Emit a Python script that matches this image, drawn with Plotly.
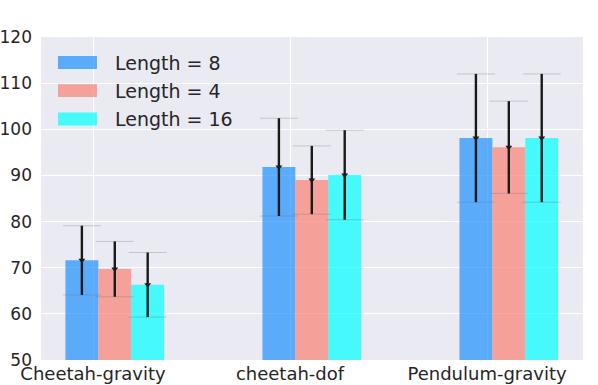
import numpy as np
import plotly.graph_objects as go

categories = ["Cheetah-gravity", "cheetah-dof", "Pendulum-gravity"]
series_names = ["Length = 8", "Length = 4", "Length = 16"]

means_len8 = [71.6, 91.8, 98.1]
means_len4 = [69.7, 89.0, 96.1]
means_len16 = [66.3, 90.1, 98.1]

err_len8 = [7.5, 10.6, 13.9]
err_len4 = [6.0, 7.4, 10.0]
err_len16 = [7.0, 9.7, 13.9]

colors = ["rgba(30,144,255,0.7)", "rgba(250,128,114,0.7)", "rgba(0,255,255,0.7)"]
offsets = [-0.14, 0.027, 0.194]
bar_w = 0.167

means = [means_len8, means_len4, means_len16]
errs = [err_len8, err_len4, err_len16]
idx = np.arange(len(categories))

fig = go.Figure()

# bars
for name, m, c, off in zip(series_names, means, colors, offsets):
    fig.add_trace(go.Bar(
        x=idx, y=m, name=name, offset=off, width=bar_w,
        marker=dict(color=c, line=dict(width=0)),
        showlegend=False
    ))

# thin grey caps
for m, e, off in zip(means, errs, offsets):
    fig.add_trace(go.Scatter(
        x=idx + off + bar_w / 2, y=m, mode="markers",
        marker=dict(size=1, color="rgba(0,0,0,0)"),
        error_y=dict(type="data", array=e, color="rgba(110,110,120,0.3)",
                     thickness=1, width=19),
        showlegend=False, hoverinfo="skip"
    ))

# black error lines + mean markers
for m, e, off in zip(means, errs, offsets):
    fig.add_trace(go.Scatter(
        x=idx + off + bar_w / 2, y=m, mode="markers",
        marker=dict(symbol="triangle-down", size=6, color="#1a1a1a"),
        error_y=dict(type="data", array=e, color="#1a1a1a",
                     thickness=2.4, width=0),
        showlegend=False
    ))

# legend drawn by hand (wide patches like the original)
legend_y = [0.921, 0.834, 0.746]
for name, c, ly in zip(series_names, colors, legend_y):
    fig.add_shape(type="rect", xref="paper", yref="paper",
                  x0=0.0314, x1=0.1033, y0=ly - 0.02, y1=ly + 0.02,
                  fillcolor=c, line=dict(width=0))
    fig.add_annotation(x=0.1328, y=ly, xref="paper", yref="paper",
                       text=name, showarrow=False, xanchor="left",
                       yanchor="middle", font=dict(size=19, color="#262626"))

fig.update_layout(
    width=598, height=385,
    margin=dict(l=41, r=15, t=37, b=25),
    paper_bgcolor="white",
    plot_bgcolor="#EAEAF2",
    barmode="overlay",
    font=dict(family="DejaVu Sans", size=17, color="#262626"),
    xaxis=dict(
        range=[-0.264, 2.487], automargin=False,
        tickmode="array", tickvals=idx, ticktext=categories,
        tickfont=dict(size=18),
        showgrid=True, gridcolor="white", gridwidth=1.3,
        zeroline=False, ticks="", ticklabelstandoff=1
    ),
    yaxis=dict(
        range=[50, 120], dtick=10, automargin=False,
        tickfont=dict(size=17),
        showgrid=True, gridcolor="white", gridwidth=1.3,
        zeroline=False, ticks="", ticklabelstandoff=8
    ),
)

# drop the default page margin so the figure sits at the window's corner
fig.write_html("out.html", config={"displayModeBar": False},
               post_script="document.body.style.margin='0';")
